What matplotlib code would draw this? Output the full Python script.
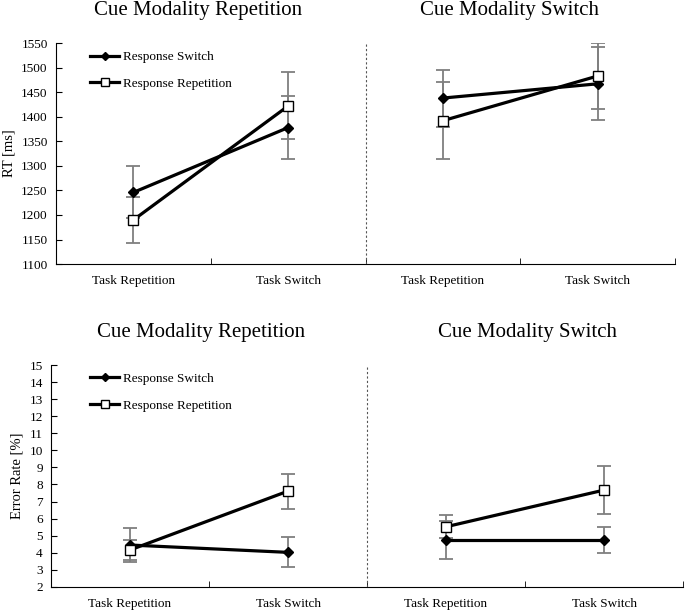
import numpy as np
import matplotlib
matplotlib.use("Agg")
import matplotlib.pyplot as plt

plt.rcParams["font.family"] = ["Liberation Serif", "DejaVu Serif"]

# categories: cue modality repetition (first two), cue modality switch (last two)
categories = ["Task Repetition", "Task Switch", "Task Repetition", "Task Switch"]
panel_titles = ["Cue Modality Repetition", "Cue Modality Switch"]
series_names = ["Response Switch", "Response Repetition"]

rt_resp_switch = [1246, 1378, 1438, 1467]
rt_resp_switch_err = [53, 64, 58, 74]
rt_resp_rep = [1190, 1422, 1392, 1483]
rt_resp_rep_err = [46, 68, 78, 67]

er_resp_switch = [4.45, 4.02, 4.74, 4.74]
er_resp_switch_err = [1.0, 0.88, 1.12, 0.75]
er_resp_rep = [4.16, 7.61, 5.52, 7.67]
er_resp_rep_err = [0.6, 1.02, 0.68, 1.4]

rt_ticks = list(range(1100, 1551, 50))
er_ticks = list(range(2, 16))

fig = plt.figure(figsize=(6.85, 6.1), dpi=100)
ax_rt = fig.add_axes([0.0818, 0.567, 0.904, 0.3625])
ax_er = fig.add_axes([0.0745, 0.038, 0.9226, 0.3636])

x = np.arange(len(categories))


def draw(ax, sw, sw_err, rep, rep_err, ticks, ylabel, leg_x, leg_y):
    for vals, errs in ((sw, sw_err), (rep, rep_err)):
        ax.errorbar(x, vals, yerr=errs, fmt="none", ecolor="#7f7f7f",
                    elinewidth=1.3, capsize=5, capthick=1.3, zorder=2)
    for i, (vals, mk, face, ms) in enumerate(((sw, "D", "black", 5.5),
                                              (rep, "s", "white", 7.5))):
        for seg in (slice(0, 2), slice(2, 4)):
            ax.plot(x[seg], np.asarray(vals)[seg], color="black", lw=2.3,
                    marker=mk, ms=ms, mfc=face, mec="black", mew=1.0, zorder=3,
                    label=series_names[i] if seg.start == 0 else None)
    ax.set_xlim(-0.5, 3.5)
    ax.set_ylim(ticks[0], ticks[-1])
    ax.set_yticks(ticks)
    ax.set_xticks(x)
    ax.set_xticklabels(categories, fontsize=9.5)
    ax.set_xticks([0.5, 1.5, 2.5, 3.5], minor=True)
    ax.tick_params(axis="x", which="major", length=0, pad=8)
    ax.tick_params(axis="x", which="minor", direction="in", length=4)
    ax.tick_params(axis="y", direction="in", length=4, labelsize=9.5, pad=6)
    for s in ("top", "right"):
        ax.spines[s].set_visible(False)
    ax.axvline(1.5, color="#555555", lw=0.8, ls=(0, (2, 2)))
    ax.set_ylabel(ylabel, fontsize=10.5, labelpad=4)
    ax.legend(loc="upper left", bbox_to_anchor=(leg_x, leg_y), frameon=False,
              fontsize=9.5, handlelength=2.2, handletextpad=0.25,
              labelspacing=1.1, borderaxespad=0, markerscale=0.7)


draw(ax_rt, rt_resp_switch, rt_resp_switch_err, rt_resp_rep, rt_resp_rep_err,
     rt_ticks, "RT [ms]", 0.047, 0.988)
draw(ax_er, er_resp_switch, er_resp_switch_err, er_resp_rep, er_resp_rep_err,
     er_ticks, "Error Rate [%]", 0.054, 0.99)

fig.text(198 / 685, 1 - 11 / 610, panel_titles[0], ha="center", va="center", fontsize=15)
fig.text(510 / 685, 1 - 11 / 610, panel_titles[1], ha="center", va="center", fontsize=15)
fig.text(201 / 685, 1 - 332 / 610, panel_titles[0], ha="center", va="center", fontsize=15)
fig.text(527 / 685, 1 - 332 / 610, panel_titles[1], ha="center", va="center", fontsize=15)

fig.savefig("out.png", dpi=100)
